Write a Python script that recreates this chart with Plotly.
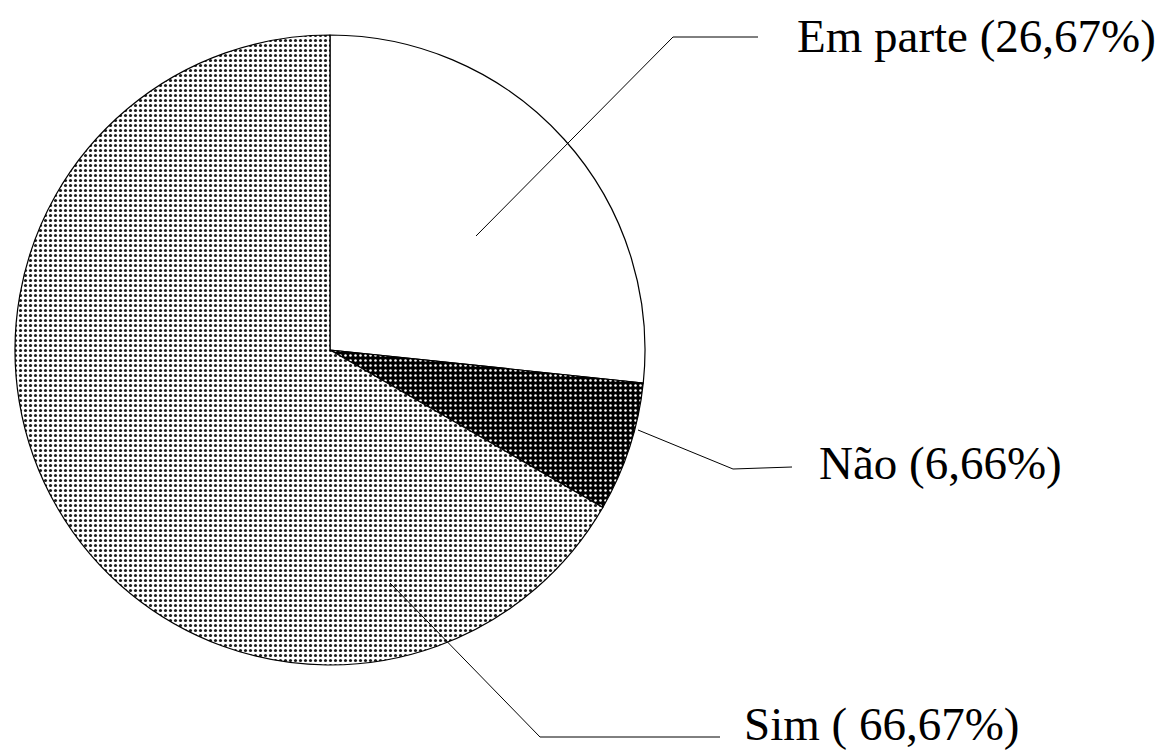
import plotly.graph_objects as go

labels = ["Em parte", "Não", "Sim"]
values = [26.67, 6.66, 66.67]
label_texts = ["Em parte (26,67%)", "Não (6,66%)", "Sim ( 66,67%)"]

# the page body has an 8px margin, so the figure is drawn 8px in from the window edge
OFF = 8
W, H = 1170 - OFF, 753 - OFF

def px(x, y):
    return (x - OFF) / W, 1 - (y - OFF) / H

# pie geometry (window pixels)
cx, cy, r = 330, 350, 315

fig = go.Figure(go.Pie(
    labels=labels,
    values=values,
    sort=False,
    direction="clockwise",
    rotation=0,
    textinfo="none",
    hoverinfo="label+percent",
    showlegend=False,
    marker=dict(
        colors=["white", "#000000", "white"],
        line=dict(color="black", width=1.2),
        pattern=dict(
            shape=["", ".", "."],
            fgcolor=["black", "white", "#1a1a1a"],
            bgcolor=["white", "#000000", "white"],
            size=[6, 5, 5],
            solidity=[0.3, 0.2, 0.3],
            fillmode="replace",
        ),
    ),
    domain=dict(x=[(cx - r - OFF) / W, (cx + r - OFF) / W],
                y=[1 - (cy + r - OFF) / H, 1 - (cy - r - OFF) / H]),
))

# leader lines (window pixels) and label positions
leaders = [
    [(476, 236), (673, 37), (758, 37)],
    [(638, 430), (733, 469), (792, 467)],
    [(390, 583), (540, 737), (720, 737)],
]
label_pos = [(795, 36), (817, 463), (742, 724)]

shapes = []
for pts in leaders:
    p = [px(x, y) for x, y in pts]
    path = "M {} {} L {} {} L {} {}".format(p[0][0], p[0][1], p[1][0], p[1][1], p[2][0], p[2][1])
    shapes.append(dict(type="path", path=path, xref="paper", yref="paper",
                       line=dict(color="black", width=1)))

annotations = []
for t, (x, y) in zip(label_texts, label_pos):
    ax, ay = px(x, y)
    annotations.append(dict(text=t, x=ax, y=ay, xref="paper", yref="paper",
                            xanchor="left", yanchor="middle", showarrow=False,
                            font=dict(family="Liberation Serif", size=47, color="black")))

fig.update_layout(
    width=W, height=H,
    margin=dict(l=0, r=0, t=0, b=0),
    paper_bgcolor="white",
    plot_bgcolor="white",
    shapes=shapes,
    annotations=annotations,
)

fig.write_html("out.html")
